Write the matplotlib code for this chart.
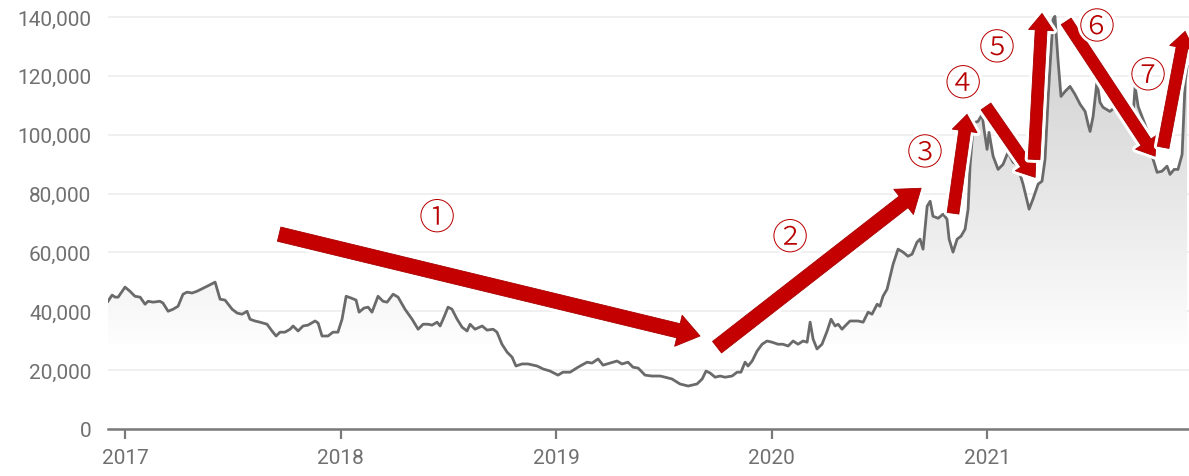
import numpy as np
import matplotlib
matplotlib.use("Agg")
import matplotlib.pyplot as plt
import matplotlib.patheffects as pe
from matplotlib.patches import PathPatch
from matplotlib.ticker import FuncFormatter

# ---------------- data (decimal year, value in thousands) ----------------
years = [
    2016.921, 2016.940, 2016.954, 2016.968, 2017.000, 2017.023, 2017.046, 2017.070, 2017.093, 2017.107,
    2017.130, 2017.162, 2017.176, 2017.200, 2017.223, 2017.246, 2017.269, 2017.288, 2017.311, 2017.334,
    2017.381, 2017.418, 2017.441, 2017.464, 2017.497, 2017.520, 2017.543, 2017.566, 2017.580, 2017.603,
    2017.626, 2017.659, 2017.682, 2017.701, 2017.719, 2017.742, 2017.766, 2017.780, 2017.803, 2017.826,
    2017.849, 2017.882, 2017.896, 2017.914, 2017.942, 2017.965, 2017.988, 2018.007, 2018.026, 2018.049,
    2018.072, 2018.086, 2018.109, 2018.128, 2018.146, 2018.174, 2018.197, 2018.216, 2018.244, 2018.267,
    2018.299, 2018.332, 2018.360, 2018.383, 2018.406, 2018.425, 2018.448, 2018.462, 2018.480, 2018.499,
    2018.517, 2018.541, 2018.564, 2018.587, 2018.601, 2018.624, 2018.657, 2018.680, 2018.708, 2018.726,
    2018.749, 2018.773, 2018.796, 2018.814, 2018.842, 2018.870, 2018.912, 2018.940, 2018.972, 2019.009,
    2019.032, 2019.065, 2019.102, 2019.144, 2019.167, 2019.195, 2019.218, 2019.251, 2019.283, 2019.306,
    2019.334, 2019.357, 2019.381, 2019.413, 2019.445, 2019.483, 2019.506, 2019.538, 2019.575, 2019.613,
    2019.654, 2019.678, 2019.696, 2019.715, 2019.738, 2019.761, 2019.784, 2019.817, 2019.840, 2019.858,
    2019.877, 2019.891, 2019.910, 2019.933, 2019.956, 2019.979, 2020.002, 2020.030, 2020.053, 2020.077,
    2020.100, 2020.123, 2020.146, 2020.165, 2020.179, 2020.193, 2020.211, 2020.234, 2020.258, 2020.276,
    2020.295, 2020.309, 2020.327, 2020.341, 2020.364, 2020.401, 2020.425, 2020.448, 2020.466, 2020.490,
    2020.503, 2020.517, 2020.536, 2020.564, 2020.587, 2020.610, 2020.633, 2020.652, 2020.675, 2020.689,
    2020.703, 2020.722, 2020.736, 2020.749, 2020.773, 2020.796, 2020.814, 2020.824, 2020.842, 2020.861,
    2020.879, 2020.898, 2020.912, 2020.921, 2020.935, 2020.944, 2020.958, 2020.977, 2020.986, 2021.000,
    2021.009, 2021.028, 2021.051, 2021.074, 2021.097, 2021.121, 2021.139, 2021.167, 2021.195, 2021.213,
    2021.237, 2021.255, 2021.269, 2021.283, 2021.292, 2021.306, 2021.315, 2021.329, 2021.343, 2021.362,
    2021.385, 2021.408, 2021.432, 2021.455, 2021.469, 2021.478, 2021.492, 2021.510, 2021.524, 2021.538,
    2021.570, 2021.599, 2021.608, 2021.631, 2021.654, 2021.673, 2021.687, 2021.701, 2021.724, 2021.747,
    2021.766, 2021.789, 2021.812, 2021.835, 2021.849, 2021.868, 2021.886, 2021.905, 2021.919, 2021.928,
]

values_k = [
    43.4, 45.5, 44.8, 44.8, 48.2, 46.8, 45.1, 44.8, 42.4, 43.4,
    43.1, 43.4, 42.8, 40.0, 40.7, 41.7, 45.8, 46.5, 46.2, 46.8,
    48.5, 49.9, 44.1, 43.8, 40.7, 39.4, 39.0, 40.0, 37.3, 36.7,
    36.3, 35.6, 33.3, 31.6, 32.9, 32.9, 33.9, 35.0, 33.3, 35.0,
    35.3, 36.7, 36.0, 31.6, 31.6, 32.9, 32.9, 37.3, 45.1, 44.5,
    43.8, 39.7, 41.1, 41.4, 39.7, 45.1, 43.4, 43.1, 45.8, 44.8,
    40.7, 37.3, 33.9, 35.6, 35.6, 35.3, 36.3, 35.0, 38.0, 41.4,
    40.7, 37.3, 34.6, 33.3, 35.6, 33.9, 35.0, 33.6, 33.9, 32.9,
    28.8, 26.1, 24.4, 21.4, 22.1, 22.1, 21.4, 20.4, 19.7, 18.3,
    19.3, 19.3, 21.0, 22.7, 22.4, 23.8, 21.7, 22.4, 23.1, 22.1,
    22.7, 21.0, 20.7, 18.3, 18.0, 18.0, 17.6, 17.0, 15.3, 14.6,
    15.3, 17.0, 19.7, 19.0, 17.6, 18.0, 17.6, 18.0, 19.3, 19.3,
    22.7, 21.4, 23.1, 26.5, 28.8, 29.9, 29.5, 28.8, 28.8, 28.2,
    29.9, 28.8, 29.9, 29.5, 36.3, 30.5, 27.2, 28.8, 33.3, 37.3,
    35.0, 35.6, 33.9, 35.0, 36.7, 36.7, 36.3, 39.7, 39.0, 42.4,
    41.7, 45.1, 47.5, 56.0, 61.1, 60.1, 58.7, 59.4, 63.5, 64.5,
    61.1, 75.7, 77.4, 72.3, 71.6, 73.0, 71.3, 64.5, 60.1, 64.5,
    65.5, 67.9, 74.7, 89.3, 102.5, 104.2, 104.5, 106.9, 101.8, 95.0,
    100.8, 92.7, 88.2, 89.9, 94.0, 90.6, 89.9, 83.2, 74.7, 78.1,
    83.2, 84.2, 91.6, 112.0, 123.2, 139.2, 140.2, 125.6, 113.0, 114.7,
    116.4, 113.7, 110.3, 107.9, 103.5, 101.1, 106.2, 118.1, 111.0, 109.3,
    107.9, 109.6, 116.4, 108.6, 102.8, 101.8, 116.4, 109.6, 105.2, 100.8,
    92.7, 87.2, 87.6, 89.3, 86.5, 88.2, 88.2, 93.3, 117.8, 123.2,
]

x_ticks = [2017, 2018, 2019, 2020, 2021]
x_tick_labels = ["2017", "2018", "2019", "2020", "2021"]
y_ticks = [0, 20000, 40000, 60000, 80000, 100000, 120000, 140000]

# annotation arrows (tail -> tip) in data coordinates, and circled labels
arrow_tails = [(2017.715, 66200), (2019.747, 27800), (2020.842, 73300), (2020.995, 109600),
               (2021.218, 91600), (2021.367, 138500), (2021.817, 95700)]
arrow_tips = [(2019.668, 31600), (2020.694, 81800), (2020.907, 106900), (2021.223, 85500),
              (2021.255, 141200), (2021.780, 92700), (2021.919, 135100)]
labels = ["①", "②", "③", "④", "⑤", "⑥", "⑦"]
label_pos = [(2018.448, 71300), (2020.086, 64500), (2020.712, 93300), (2020.889, 116800),
             (2021.046, 129000), (2021.510, 136100), (2021.747, 119500)]

# ---------------- figure ----------------
plt.rcParams["font.family"] = ["Roboto", "DejaVu Sans"]

W, H = 1189, 477
fig = plt.figure(figsize=(W / 100, H / 100), dpi=100)
ax = fig.add_axes([108 / W, 47 / H, 1 - 108 / W, 1 - 47 / H])

x = np.array(years)
y = np.array(values_k) * 1000.0

XMIN, XMAX = 2016.921, 2021.937
YMAX = 146100
BASE = 28800

# gradient fill under the line
poly = ax.fill_between(x, y, BASE, color="none", lw=0)
path = poly.get_paths()[0]
clip = PathPatch(path, transform=ax.transData, facecolor="none", edgecolor="none")
ax.add_patch(clip)
n = 256
levels = np.linspace(BASE, 140000, n)
gray = 253.5 - (levels - BASE) / (140000 - BASE) * 49
img = np.zeros((n, 1, 3))
img[:, 0, :] = (gray / 255.0)[:, None]
im = ax.imshow(img, extent=[XMIN, XMAX, BASE, 140000], origin="lower",
               aspect="auto", interpolation="bilinear", zorder=1)
im.set_clip_path(clip)

# line
ax.plot(x, y, color="#6a6a6a", lw=2.0, zorder=3, solid_joinstyle="round")

# arrows
red = "#c40000"
for i, (tail, tip) in enumerate(zip(arrow_tails, arrow_tips)):
    if i < 2:
        hl, hw, tw = 16, 23, 10.5
    else:
        hl, hw, tw = 12, 18, 8.5
    ann = ax.annotate("", xy=tip, xytext=tail, xycoords="data", textcoords="data",
                      arrowprops=dict(arrowstyle=f"simple,head_length={hl},head_width={hw},tail_width={tw}",
                                      fc=red, ec="#a80000", lw=0.6, shrinkA=0, shrinkB=0,
                                      mutation_scale=1),
                      zorder=5)
    ann.arrow_patch.set_path_effects([pe.withStroke(linewidth=5, foreground="white")])
    ann.arrow_patch.set_zorder(5)

for t, (lx, ly) in zip(labels, label_pos):
    ax.text(lx, ly, t, ha="center", va="center", fontsize=26, color="#b80000",
            family=["Noto Sans CJK JP", "DejaVu Sans"], fontweight="light", zorder=6,
            path_effects=[pe.withStroke(linewidth=4, foreground="white")])

# axes styling
ax.set_xlim(XMIN, XMAX)
ax.set_ylim(0, YMAX)
for s in ["top", "right", "left"]:
    ax.spines[s].set_visible(False)
ax.spines["bottom"].set_color("#7a7a7a")
ax.spines["bottom"].set_linewidth(1.8)
ax.spines["bottom"].set_zorder(4)

ax.set_yticks(y_ticks)
ax.yaxis.set_major_formatter(FuncFormatter(lambda v, p: f"{int(v):,}"))
ax.set_xticks(x_ticks)
ax.set_xticklabels(x_tick_labels)
ax.tick_params(axis="y", length=0, pad=12, labelsize=15, labelcolor="#707070")
ax.tick_params(axis="x", length=7, width=1.6, color="#7a7a7a", pad=7,
               labelsize=15, labelcolor="#707070", direction="out")
ax.yaxis.grid(True, color="#eeeeee", lw=1.2, zorder=0)
ax.set_axisbelow(True)

fig.savefig("out.png", dpi=100, facecolor="white")
